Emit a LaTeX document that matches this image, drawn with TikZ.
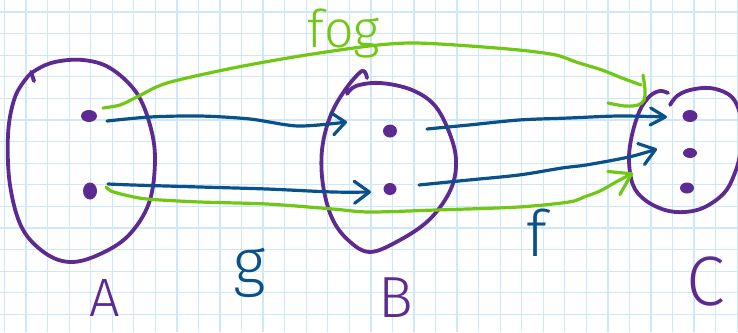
\documentclass[tikz,border=0pt]{standalone}
\usepackage{fontspec}
\newfontfamily\hand{Fira Sans Light}
\usetikzlibrary{arrows.meta,shapes.geometric}
\definecolor{gridc}{RGB}{204,232,250}
\definecolor{setc}{RGB}{92,42,145}
\definecolor{mapc}{RGB}{10,80,138}
\definecolor{compc}{RGB}{112,200,20}
\begin{document}
\begin{tikzpicture}[x=1pt,y=-1pt,
  gridline/.style={draw=gridc,line width=1.3pt},
  setline/.style={draw=setc,line width=3.8pt,line cap=round,line join=round},
  dotnode/.style={ellipse,fill=setc,inner sep=0pt},
  maparrow/.style={draw=mapc,line width=3.2pt,line cap=round,line join=round},
  compline/.style={draw=compc,line width=3.2pt,line cap=round,line join=round},
  lbl/.style={inner sep=0pt,anchor=center},
]
\useasboundingbox (0,0) rectangle (738,332);
\clip (0,0) rectangle (738,332);
\fill[white] (0,0) rectangle (738,332);
% grid paper
\foreach \i in {0,...,34} \draw[gridline] ({4.5+21.55*\i},0) -- ({4.5+21.55*\i},332);
\foreach \j in {0,...,15} \draw[gridline] (0,{12+21.6*\j}) -- (738,{12+21.6*\j});

% set A
\draw[setline] plot[smooth cycle, tension=0.6] coordinates {(36,70) (55,62) (83,60) (110,68) (136,92) (150,125) (155,160) (149,203) (128,236) (98,255) (70,262) (45,253) (22,228) (10,185) (8,135) (14,100) (25,80)};
\draw[setline] (31,72) -- (34,81);
% set B
\draw[setline] plot[smooth, tension=0.6] coordinates {(347,94) (356,86) (380,83) (412,90) (436,107) (452,140) (456,167) (449,193) (429,220) (400,240) (370,252) (348,240) (332,218) (323,185) (322,150) (330,117) (345,90) (362,71) (367,78)};
% set C
\draw[setline] plot[smooth, tension=0.6] coordinates {(668,93) (660,91) (650,96) (640,110) (632,135) (629,160) (633,185) (645,200) (665,210) (685,212) (705,207) (725,192) (736,170) (741,150)};
\draw[setline] plot[smooth, tension=0.6] coordinates {(670,105) (677,96) (690,90) (710,88) (728,94) (737,105) (743,125)};

% elements
\node[dotnode,minimum width=16pt,minimum height=12pt] (a1) at (89,116) {};
\node[dotnode,minimum width=14pt,minimum height=17pt] (a2) at (90,191) {};
\node[dotnode,minimum width=14pt,minimum height=13pt] (b1) at (390,131) {};
\node[dotnode,minimum width=13pt,minimum height=12pt] (b2) at (390,189) {};
\node[dotnode,minimum width=15pt,minimum height=12pt] (c1) at (690,116) {};
\node[dotnode,minimum width=14pt,minimum height=10pt] (c2) at (690,153) {};
\node[dotnode,minimum width=14pt,minimum height=11pt] (c3) at (687,188) {};

% connector end points
\coordinate (g1s) at (107,121); \coordinate (g1e) at (347,122);
\coordinate (g2s) at (108,184); \coordinate (g2e) at (371,192);
\coordinate (f1s) at (427,129); \coordinate (f1e) at (667,117);
\coordinate (f2s) at (419,185); \coordinate (f2e) at (657,149);
\coordinate (hs) at (103,108); \coordinate (he) at (641,85);
\coordinate (ks) at (106,187); \coordinate (ke) at (633,173);

% g : A -> B
\draw[maparrow,-{Straight Barb[round,length=13pt,width=22pt]}] plot[smooth] coordinates {(g1s) (150,117) (200,116) (250,119) (298,126) (g1e)};
\draw[maparrow,-{Straight Barb[round,length=15pt,width=22pt]}] plot[smooth] coordinates {(g2s) (133,185) (200,187) (267,189) (333,192) (g2e)};
% f : B -> C
\draw[maparrow,-{Straight Barb[round,length=15pt,width=17pt]}] plot[smooth] coordinates {(f1s) (469,125) (519,120) (569,118) (619,116) (f1e)};
\draw[maparrow,-{Straight Barb[round,length=15pt,width=22pt]}] plot[smooth] coordinates {(f2s) (469,180) (519,175) (562,168) (586,165) (629,157) (f2e)};
% f o g : A -> C
\draw[compline] plot[smooth] coordinates {(hs) (120,105) (137,97) (167,83) (233,68) (300,56) (369,46) (410,43) (456,45) (519,50) (556,55) (576,62) (602,70) (622,78) (he)};
\draw[compline] plot[smooth, tension=0.6] coordinates {(643,75) (645,90) (644,100) (638,105) (625,106) (608,103)};
\draw[compline,-{Straight Barb[round,length=20pt,width=26pt]}] plot[smooth] coordinates {(ks) (111,191) (125,195) (147,199) (200,202) (267,204) (333,209) (369,212) (436,210) (519,207) (569,202) (584,197) (600,191) (616,182) (ke)};

% labels
\node[lbl,text=compc,font=\hand\fontsize{52}{52}\selectfont] (lfog) at (344,34) {fog};
\node[lbl,text=mapc,font=\hand\fontsize{64}{64}\selectfont] (lg) at (250,273) {g};
\node[lbl,text=mapc,font=\hand\fontsize{64}{64}\selectfont] (lf) at (537,233) {f};
\node[lbl,text=setc,font=\hand\fontsize{54}{54}\selectfont] (lA) at (105,298) {A};
\node[lbl,text=setc,font=\hand\fontsize{58}{58}\selectfont] (lB) at (396,298) {B};
\node[lbl,text=setc,font=\hand\fontsize{70}{70}\selectfont] (lC) at (706,282) {C};
\end{tikzpicture}
\end{document}
